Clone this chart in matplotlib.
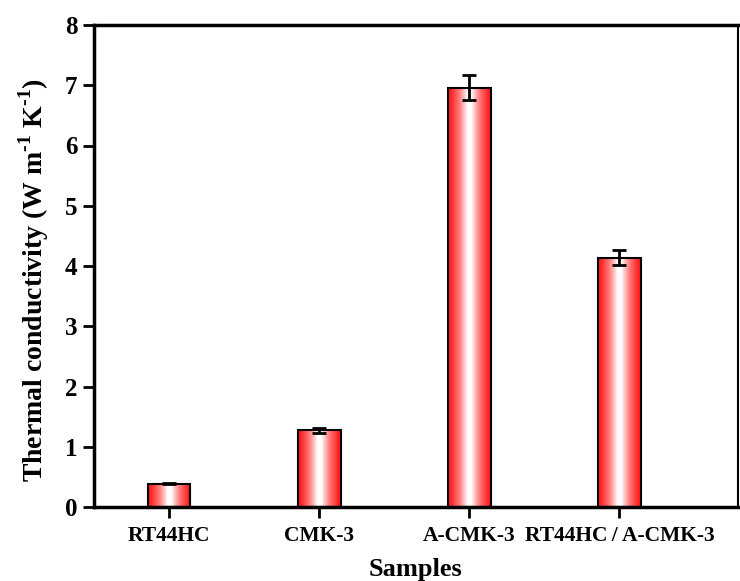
import numpy as np
import matplotlib
matplotlib.use("Agg")
import matplotlib.pyplot as plt
from matplotlib.colors import LinearSegmentedColormap

samples = ["RT44HC", "CMK-3", "A-CMK-3", "RT44HC\u2009/\u2009A-CMK-3"]
conductivity = [0.39, 1.27, 6.96, 4.14]
errors = [0.01, 0.04, 0.21, 0.12]

plt.rcParams['font.family'] = ['Liberation Serif', 'DejaVu Serif']
plt.rcParams['font.weight'] = 'bold'
plt.rcParams['mathtext.fontset'] = 'custom'
plt.rcParams['mathtext.rm'] = 'Liberation Serif:bold'
plt.rcParams['mathtext.bf'] = 'Liberation Serif:bold'

fig = plt.figure(figsize=(7.4, 5.81), dpi=100)
ax = fig.add_axes([94 / 740, 1 - 507 / 581, (738 - 94) / 740, (507 - 25) / 581])

x = np.arange(len(samples))
width = 0.285
bars = ax.bar(x, conductivity, width, color='none', edgecolor='black',
              linewidth=1.5, zorder=3)
ax.errorbar(x, conductivity, yerr=errors, fmt='none', ecolor='black',
            elinewidth=2, capsize=5, capthick=2, zorder=4)

# red-white-red gradient inside each bar
cmap = LinearSegmentedColormap.from_list('rw', ['white', '#ff8080', '#ff2020'])
t = np.abs(np.linspace(-1, 1, 256))
grad = np.clip((t - 0.1) / 0.8, 0, 1) ** 0.85
grad = grad[np.newaxis, :]
for b in bars:
    x0, y0 = b.get_x(), b.get_y()
    im = ax.imshow(grad, cmap=cmap, aspect='auto', zorder=2,
                   extent=[x0, x0 + b.get_width(), y0, y0 + b.get_height()],
                   interpolation='bilinear')
    im.set_clip_path(b)

ax.set_xlim(-0.5, 3.79)
ax.set_ylim(0, 8)
ax.set_xticks(x)
ax.set_xticklabels(samples, fontsize=15.5, fontweight='bold')
ax.set_yticks(range(0, 9))
ax.tick_params(axis='y', labelsize=18, direction='out', length=8, width=2, pad=4)
ax.tick_params(axis='x', direction='out', length=8, width=2, pad=6)
for lab in ax.get_yticklabels():
    lab.set_fontweight('bold')

for s in ['left', 'bottom', 'top']:
    ax.spines[s].set_linewidth(2.5)
ax.spines['right'].set_linewidth(1.5)

ax.set_xlabel('Samples', fontsize=19, fontweight='bold', labelpad=8)
ax.set_ylabel(r'Thermal conductivity (W m$^{\text{-1}}$ K$^{\text{-1}}$)',
              fontsize=20, fontweight='bold')
ax.yaxis.set_label_coords(-0.066, 0.47)

fig.savefig('out.png', dpi=100)
